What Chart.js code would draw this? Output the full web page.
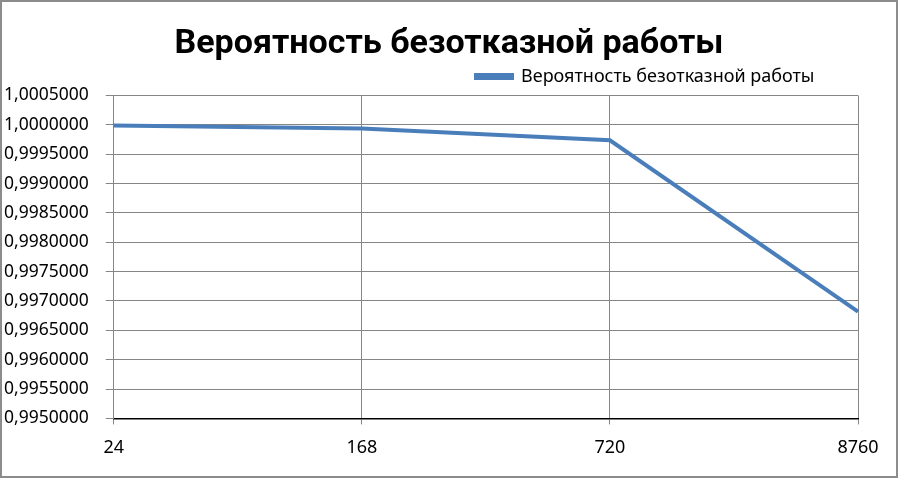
<!DOCTYPE html>
<html>
<head>
<meta charset="utf-8">
<script src="https://cdn.jsdelivr.net/npm/chart.js@4.4.0/dist/chart.umd.min.js"></script>
<style>
  html, body { margin: 0; padding: 0; background: #fff; }
  #wrap { position: relative; width: 894px; height: 474px; border: 2px solid #8c8c8c; }
</style>
</head>
<body>
<div id="wrap"><canvas id="chart" width="894" height="474"></canvas></div>
<script>
const hours = ['24', '168', '720', '8760'];
const reliability = [0.999991, 0.999939, 0.999738, 0.996820];
const yTicks = [0.995, 0.9955, 0.996, 0.9965, 0.997, 0.9975, 0.998, 0.9985, 0.999, 0.9995, 1.0, 1.0005];
const seriesName = 'Вероятность безотказной работы';

// move title to the canvas centre and the legend a bit left, like in Excel
const shiftBoxes = {
  id: 'shiftBoxes',
  afterLayout(chart) {
    const t = chart.titleBlock;
    t.left += 18; t.right += 18;
    const l = chart.legend;
    l.left -= 37; l.right -= 37;
  }
};

const chart = new Chart(document.getElementById('chart'), {
  type: 'line',
  data: {
    labels: hours,
    datasets: [{
      label: seriesName,
      data: reliability,
      borderColor: '#4a7ebb',
      backgroundColor: '#4a7ebb',
      borderWidth: 4,
      pointRadius: 0,
      tension: 0
    }]
  },
  options: {
    responsive: false,
    animation: false,
    layout: { padding: { left: 2, right: 38, top: 0, bottom: 4 } },
    plugins: {
      title: {
        display: true,
        text: seriesName,
        color: '#000',
        font: { family: 'Roboto', size: 34, weight: 'bold', lineHeight: 1 },
        padding: { top: 25, bottom: 0 }
      },
      legend: {
        position: 'top',
        align: 'end',
        labels: {
          color: '#000',
          boxWidth: 36,
          boxHeight: 3,
          padding: 6.5,
          font: { family: 'Noto Sans', size: 18 }
        }
      },
      tooltip: { enabled: false }
    },
    scales: {
      x: {
        offset: false,
        grid: { color: '#868686', lineWidth: 1, tickLength: 6 },
        border: { color: '#000', width: 1.5 },
        ticks: { color: '#000', padding: 13, font: { family: 'Noto Sans', size: 18 } }
      },
      y: {
        min: 0.995,
        max: 1.0005,
        afterBuildTicks: axis => { axis.ticks = yTicks.map(v => ({ value: v })); },
        grid: { color: '#868686', lineWidth: 1, tickLength: 8 },
        border: { color: '#868686', width: 1 },
        ticks: {
          color: '#000',
          padding: 8.5,
          crossAlign: 'far',
          font: { family: 'Noto Sans', size: 17.5 },
          callback: v => v.toFixed(7).replace('.', ',')
        }
      }
    }
  },
  plugins: [shiftBoxes]
});
</script>
</body>
</html>
